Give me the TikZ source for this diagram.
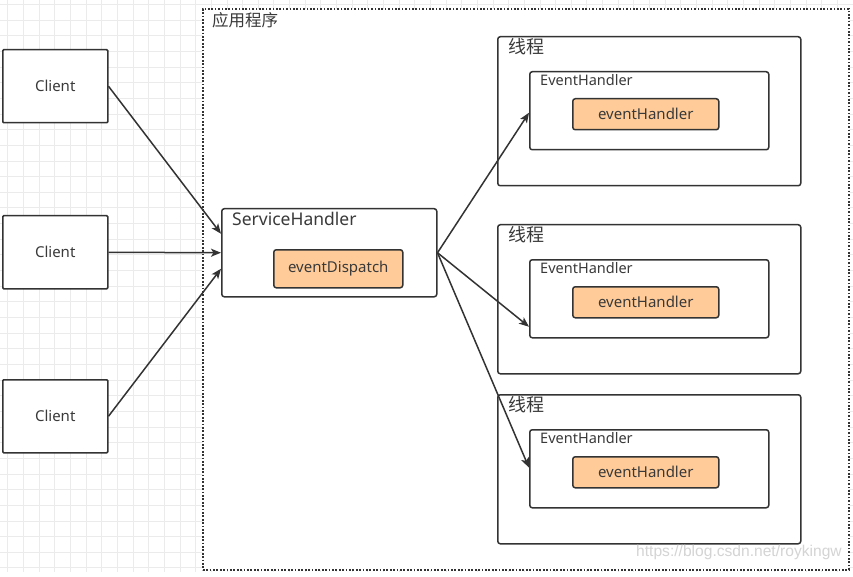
\documentclass[tikz,border=0pt]{standalone}
\usepackage{fontspec}
\setmainfont{Noto Sans}
\newfontfamily\cjk{Noto Sans CJK SC}
\newfontfamily\wmfont{Liberation Sans}
\usetikzlibrary{arrows.meta}
\definecolor{txt}{HTML}{3A3A3A}
\definecolor{edge}{HTML}{333333}
\definecolor{orangefill}{HTML}{FFCC99}
\definecolor{gridc}{HTML}{EBEBEB}
\definecolor{wmc}{HTML}{D4D4D4}
\tikzset{
  box/.style={draw=edge, line width=1.5pt, fill=white, rounded corners=2.5pt, inner sep=0pt, anchor=north west, text=txt},
  clientbox/.style={box, rounded corners=1pt, font=\fontsize{15}{18}\selectfont},
  orangebox/.style={box, fill=orangefill, font=\fontsize{15}{18}\selectfont},
  lbl/.style={inner sep=0pt, anchor=west, text=txt},
  arr/.style={draw=edge, line width=1.5pt, -{Stealth[length=10pt,width=8pt,inset=2.5pt]}},
}
\begin{document}
\begin{tikzpicture}[x=1pt,y=-1pt]
\useasboundingbox (0,0) rectangle (853,577);
\fill[white] (0,0) rectangle (853,577);
% background grid
\foreach \i in {0,...,54} \draw[gridc, line width=0.8pt] ({7.8+15.65*\i},0) -- ({7.8+15.65*\i},572);
\foreach \j in {0,...,36} \draw[gridc, line width=0.8pt] (0,{4.45+15.65*\j}) -- (853,{4.45+15.65*\j});
% application container
\node[draw=edge, line width=1.7pt, dash pattern=on 1.7pt off 1.7pt, fill=white, inner sep=0pt, anchor=north west,
      minimum width=646pt, minimum height=561pt] (app) at (202,8) {};
\node[lbl, font=\cjk\fontsize{16.5}{18}\selectfont] (applbl) at (212,20) {应用程序};
% clients
\node[clientbox, minimum width=105pt, minimum height=73pt] (c1) at (2,49) {Client};
\node[clientbox, minimum width=105pt, minimum height=73pt] (c2) at (2,215) {Client};
\node[clientbox, minimum width=105pt, minimum height=73pt] (c3) at (2,379) {Client};
% service handler
\node[box, minimum width=215pt, minimum height=88pt] (sh) at (221,208) {};
\node[lbl, font=\fontsize{17.5}{20}\selectfont] (shlbl) at (232,219) {ServiceHandler};
\node[orangebox, minimum width=129pt, minimum height=38pt] (ed) at (273,249) {eventDispatch};
% threads
\foreach \n/\ty in {1/36, 2/224, 3/394}{
  \node[box, minimum width=303pt, minimum height=149pt] (t\n) at (497,\ty) {};
  \node[lbl, font=\cjk\fontsize{18}{20}\selectfont] (tl\n) at (508,\ty+11) {线程};
  \node[box, minimum width=239pt, minimum height=78pt] (eh\n) at (529,\ty+35) {};
  \node[lbl, font=\fontsize{14.5}{17}\selectfont] (ehl\n) at (540,\ty+44) {EventHandler};
  \node[orangebox, minimum width=146pt, minimum height=31pt] (h\n) at (572,\ty+62) {eventHandler};
}
% connectors
\draw[arr] (c1.east) -- ([yshift=19pt]sh.west);
\draw[arr] (c2.east) -- (sh.west);
\draw[arr] (c3.east) -- ([yshift=-16pt]sh.west);
\draw[arr] (sh.east) -- ([yshift=-2pt]eh1.west);
\draw[arr] (sh.east) -- ([yshift=-28pt]eh2.west);
\draw[arr] (sh.east) -- ([yshift=1pt]eh3.west);
% watermark
\node[inner sep=0pt, anchor=west, text=wmc, font=\wmfont\fontsize{15.6}{18}\selectfont] (wm) at (636,552) {https://blog.csdn.net/roykingw};
\end{tikzpicture}
\end{document}
